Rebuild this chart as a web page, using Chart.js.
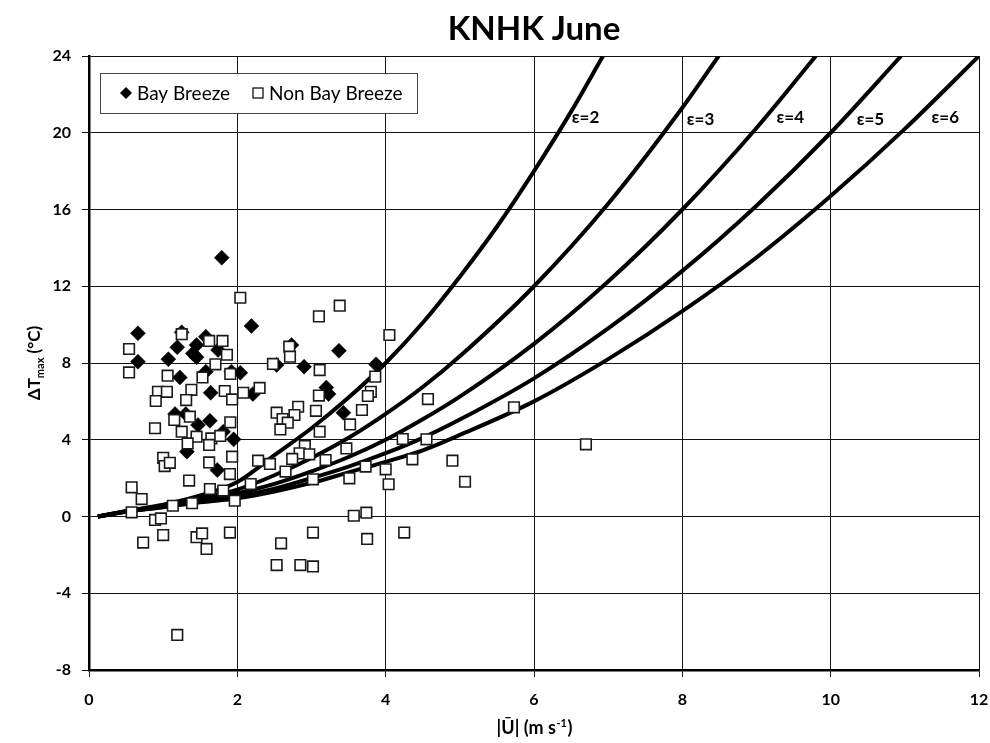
<!DOCTYPE html>
<html>
<head>
<meta charset="utf-8">
<script src="https://cdn.jsdelivr.net/npm/chart.js@4.4.1/dist/chart.umd.min.js"></script>
<style>
  html, body { margin: 0; padding: 0; background: #fff; }
  #wrap { width: 990px; height: 743px; position: relative; }
</style>
</head>
<body>
<div id="wrap"><canvas id="chart"></canvas></div>
<script>
// --- data ---
const bayBreeze = [
  [1.79, 13.49], [0.66, 9.55], [1.25, 9.6], [1.575, 9.37], [1.19, 8.82], [1.45, 8.94],
  [1.4, 8.5], [1.74, 8.68], [0.66, 8.07], [1.07, 8.2], [1.45, 8.3], [1.225, 7.25],
  [1.575, 7.55], [1.92, 7.55], [2.04, 7.49], [1.64, 6.45], [1.16, 5.34], [1.305, 5.34],
  [1.47, 4.77], [1.63, 4.99], [1.81, 4.42], [1.95, 4.02], [1.32, 3.38], [1.73, 2.42],
  [2.19, 9.93], [2.73, 8.94], [3.37, 8.64], [2.53, 7.9], [2.9, 7.81], [3.87, 7.93],
  [3.2, 6.72], [2.21, 6.38], [3.23, 6.38], [3.43, 5.41],
];

const nonBayBreeze = [
  [2.04, 11.4], [1.25, 9.5], [0.54, 8.73], [1.62, 9.15], [1.8, 9.15], [1.86, 8.43],
  [0.54, 7.51], [1.06, 7.34], [1.705, 7.93], [1.53, 7.25], [1.905, 7.43],
  [0.93, 6.5], [1.05, 6.5], [1.38, 6.6], [1.83, 6.54], [1.93, 6.1], [2.08, 6.45],
  [0.9, 6.02], [1.31, 6.07], [1.15, 5.03], [1.36, 5.2], [1.905, 4.91], [0.89, 4.6],
  [1.25, 4.42], [1.45, 4.16], [1.65, 4.07], [1.77, 4.2], [1.62, 3.73], [1.33, 3.81],
  [1.0, 3.06], [1.02, 2.63], [1.09, 2.8], [1.62, 2.82], [1.93, 3.12], [1.9, 2.21],
  [1.35, 1.87], [0.575, 1.52], [0.71, 0.91], [1.63, 1.43], [1.81, 1.35], [1.13, 0.56],
  [1.39, 0.69], [1.965, 0.82], [0.575, 0.22], [0.89, -0.18], [0.97, -0.1],
  [0.73, -1.36], [1.0, -0.97], [1.45, -1.08], [1.525, -0.88], [1.585, -1.69], [1.9, -0.84],
  [2.59, -1.4], [3.02, -0.84], [2.53, -2.53], [2.85, -2.53], [3.02, -2.6], [3.75, -1.17],
  [4.25, -0.84], [1.19, -6.17],
  [3.1, 10.43], [3.38, 10.99], [4.05, 9.46], [2.7, 8.85], [2.71, 8.33], [2.48, 7.95],
  [3.11, 7.63], [3.86, 7.29], [2.3, 6.7], [3.8, 6.5], [3.1, 6.3], [3.76, 6.28],
  [2.53, 5.41], [2.82, 5.72], [2.77, 5.29], [2.61, 5.08], [2.68, 4.89], [2.58, 4.54],
  [3.06, 5.51], [3.68, 5.55], [3.52, 4.8], [3.11, 4.42], [4.23, 4.04], [2.91, 3.67],
  [3.47, 3.55], [2.84, 3.29], [2.97, 3.24], [2.74, 3.0], [2.28, 2.91], [2.44, 2.74],
  [3.19, 2.94], [4.36, 2.98], [2.65, 2.34], [3.73, 2.6], [4.0, 2.46], [2.18, 1.69],
  [3.02, 1.94], [3.51, 1.99], [4.04, 1.68], [3.57, 0.04], [3.74, 0.2],
  [4.57, 6.12], [5.73, 5.69], [4.55, 4.02], [6.7, 3.76], [4.9, 2.91], [5.07, 1.81],
];

// epsilon curves, points
const eps2 = [[0.12, 0], [0.5, 0.28], [1, 0.62], [1.5, 1.1], [2, 1.8], [2.5, 3.2], [3, 4.6], [3.5, 6.2],
  [4, 8.0], [4.5, 10.1], [5, 12.5], [5.5, 15.1], [6, 18.0], [6.5, 21.1], [6.93, 24]];
const eps3 = [[0.12, 0], [0.5, 0.27], [1, 0.56], [1.5, 0.95], [2, 1.4], [2.5, 2.15], [3, 3.05], [3.5, 4.1],
  [4, 5.35], [4.5, 6.75], [5, 8.35], [6, 12.0], [7, 16.3], [8, 21.3], [8.49, 24]];
const eps4 = [[0.12, 0], [0.5, 0.26], [1, 0.53], [1.5, 0.85], [2, 1.2], [2.5, 1.7], [3, 2.35], [3.5, 3.1],
  [4, 4.0], [4.5, 5.07], [5, 6.25], [6, 9.0], [7, 12.25], [8, 16.0], [9, 20.25], [9.8, 24]];
const eps5 = [[0.12, 0], [0.5, 0.25], [1, 0.5], [1.5, 0.8], [2, 1.05], [2.5, 1.45], [3, 2.0], [3.5, 2.6],
  [4, 3.3], [4.5, 4.1], [5, 5.05], [6, 7.2], [7, 9.8], [8, 12.8], [9, 16.2], [10, 20.0], [10.95, 24]];
const eps6 = [[0.12, 0], [0.5, 0.24], [1, 0.48], [1.5, 0.74], [2, 0.95], [2.5, 1.3], [3, 1.75], [3.5, 2.3],
  [4, 2.85], [4.5, 3.45], [5, 4.25], [6, 6.0], [7, 8.2], [8, 10.7], [9, 13.5], [10, 16.7], [11, 20.2], [12, 24]];

const curveNames = ["ε=2", "ε=3", "ε=4", "ε=5", "ε=6"];
const curveLabelAt = [[6.51, 20.8], [8.06, 20.7], [9.27, 20.8], [10.35, 20.7], [11.36, 20.8]];

const xTicks = [0, 2, 4, 6, 8, 10, 12];
const yTicks = [-8, -4, 0, 4, 8, 12, 16, 20, 24];

const FONT = "Lato, 'Open Sans', sans-serif";
const toXY = (arr) => arr.map(([x, y]) => ({ x, y }));

function curve(data, order) {
  return {
    label: "",
    data: toXY(data),
    showLine: true,
    borderColor: "#000",
    borderWidth: 4,
    pointRadius: 0,
    cubicInterpolationMode: "monotone",
    order,
  };
}

// title, axis titles, legend box and epsilon labels
const decorations = {
  id: "decorations",
  afterDatasetsDraw(chart) {
    const { ctx, chartArea: a, scales } = chart;
    ctx.save();
    ctx.fillStyle = "#000";

    // title
    ctx.font = `bold 33px ${FONT}`;
    ctx.textAlign = "center";
    ctx.textBaseline = "alphabetic";
    ctx.fillText("KNHK June", (a.left + a.right) / 2, 40);

    // epsilon labels
    ctx.font = `bold 17px ${FONT}`;
    ctx.textAlign = "left";
    ctx.textBaseline = "middle";
    curveNames.forEach((t, i) => {
      const [ux, uy] = curveLabelAt[i];
      ctx.fillText(t, scales.x.getPixelForValue(ux), scales.y.getPixelForValue(uy));
    });

    // x axis title: |Ū| (m s-1)
    const xMain1 = "|Ū| (m s", sup = "-1", xMain2 = ")";
    ctx.textAlign = "left";
    ctx.textBaseline = "alphabetic";
    ctx.font = `bold 18px ${FONT}`;
    const w1 = ctx.measureText(xMain1).width, w3 = ctx.measureText(xMain2).width;
    ctx.font = `bold 11px ${FONT}`;
    const w2 = ctx.measureText(sup).width;
    const x0 = (a.left + a.right) / 2 - (w1 + w2 + w3) / 2;
    const yb = 734;
    ctx.font = `bold 18px ${FONT}`;
    ctx.fillText(xMain1, x0, yb);
    ctx.font = `bold 11px ${FONT}`;
    ctx.fillText(sup, x0 + w1 + 0.5, yb - 7);
    ctx.font = `bold 18px ${FONT}`;
    ctx.fillText(xMain2, x0 + w1 + w2 + 1, yb);

    // y axis title: ΔTmax (°C)
    ctx.save();
    ctx.translate(40, (a.top + a.bottom) / 2);
    ctx.rotate(-Math.PI / 2);
    const y1 = "ΔT", ysub = "max", y3 = " (°C)";
    ctx.font = `bold 17px ${FONT}`;
    const v1 = ctx.measureText(y1).width, v3 = ctx.measureText(y3).width;
    ctx.font = `bold 11px ${FONT}`;
    const v2 = ctx.measureText(ysub).width;
    const s0 = -(v1 + v2 + v3) / 2;
    ctx.font = `bold 17px ${FONT}`;
    ctx.fillText(y1, s0, 0);
    ctx.font = `bold 11px ${FONT}`;
    ctx.fillText(ysub, s0 + v1, 4);
    ctx.font = `bold 17px ${FONT}`;
    ctx.fillText(y3, s0 + v1 + v2, 0);
    ctx.restore();

    // legend box
    const bx = 100, by = 73, bw = 317, bh = 40;
    ctx.fillStyle = "#fff";
    ctx.fillRect(bx, by, bw, bh);
    ctx.strokeStyle = "#444";
    ctx.lineWidth = 1;
    ctx.strokeRect(bx + 0.5, by + 0.5, bw, bh);

    const cy = by + bh / 2;
    // diamond
    ctx.fillStyle = "#000";
    ctx.beginPath();
    ctx.moveTo(126, cy - 6); ctx.lineTo(132, cy); ctx.lineTo(126, cy + 6); ctx.lineTo(120, cy);
    ctx.closePath();
    ctx.fill();
    // square
    ctx.fillStyle = "#fff";
    ctx.fillRect(253, cy - 5, 10, 10);
    ctx.strokeStyle = "#000";
    ctx.lineWidth = 1.2;
    ctx.strokeRect(253, cy - 5, 10, 10);

    ctx.fillStyle = "#000";
    ctx.font = `19px ${FONT}`;
    ctx.textAlign = "left";
    ctx.textBaseline = "middle";
    ctx.fillText("Bay Breeze", 137, cy + 1);
    ctx.fillText("Non Bay Breeze", 269, cy + 1);

    ctx.restore();
  },
};

new Chart(document.getElementById("chart"), {
  type: "scatter",
  data: {
    datasets: [
      {
        label: "Non Bay Breeze",
        data: toXY(nonBayBreeze),
        pointStyle: "rect",
        pointRadius: 7.5,
        backgroundColor: "#fff",
        borderColor: "#1a1a1a",
        borderWidth: 1.6,
        order: 1,
      },
      {
        label: "Bay Breeze",
        data: toXY(bayBreeze),
        pointStyle: "rectRot",
        pointRadius: 7.5,
        backgroundColor: "#000",
        borderColor: "#000",
        borderWidth: 0.5,
        order: 2,
      },
      curve(eps2, 3),
      curve(eps3, 4),
      curve(eps4, 5),
      curve(eps5, 6),
      curve(eps6, 7),
    ],
  },
  options: {
    responsive: true,
    maintainAspectRatio: false,
    animation: false,
    events: [],
    layout: { padding: { top: 56, right: 11, left: 0, bottom: 0 } },
    plugins: {
      legend: { display: false },
      title: { display: false },
      tooltip: { enabled: false },
    },
    scales: {
      x: {
        type: "linear",
        min: 0,
        max: 12,
        afterFit: (s) => { s.height = 73; s.paddingLeft = 0; s.paddingRight = 0; },
        afterBuildTicks: (s) => { s.ticks = xTicks.map((v) => ({ value: v })); },
        ticks: { font: { family: FONT, size: 16, weight: "bold" }, color: "#000", padding: 13 },
        grid: { color: "#111", lineWidth: 1, tickLength: 7, tickColor: "#111" },
        border: { color: "#000", width: 2.5 },
      },
      y: {
        type: "linear",
        min: -8,
        max: 24,
        afterFit: (s) => { s.width = 89; s.paddingTop = 0; s.paddingBottom = 0; },
        afterBuildTicks: (s) => { s.ticks = yTicks.map((v) => ({ value: v })); },
        ticks: { font: { family: FONT, size: 16, weight: "bold" }, color: "#000", padding: 11 },
        grid: { color: "#111", lineWidth: 1, tickLength: 7, tickColor: "#111" },
        border: { color: "#000", width: 2.5 },
      },
    },
  },
  plugins: [decorations],
});
</script>
</body>
</html>
